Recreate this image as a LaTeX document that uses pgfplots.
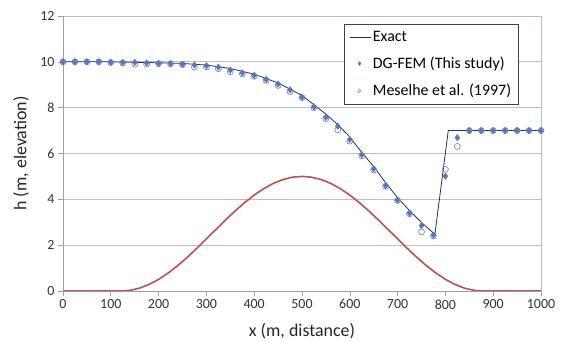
\documentclass[border=0pt]{standalone}
\usepackage{fontspec}
\setmainfont{Carlito}
\usepackage{pgfplots}
\pgfplotsset{compat=1.18}
\definecolor{dgblue}{RGB}{74,124,196}
\definecolor{mescol}{RGB}{140,125,200}
\definecolor{bedred}{RGB}{192,80,77}
\definecolor{bordblue}{RGB}{167,190,220}
\definecolor{gridgray}{RGB}{190,190,190}
\definecolor{axgray}{RGB}{160,160,160}
\begin{document}
\begin{tikzpicture}
\begin{axis}[
  scale only axis,
  width=478bp, height=275bp,
  xmin=0, xmax=1000, ymin=0, ymax=12,
  xtick={0,100,...,1000}, ytick={0,2,...,12},
  /pgf/number format/assume math mode=true,
  /pgf/number format/1000 sep={},
  ticklabel style={font=\fontsize{14}{16}\selectfont, text=black!80},
  xtick pos=bottom, ytick pos=left,
  tick align=outside, major tick length=5bp,
  tick style={axgray, line width=0.6bp},
  ymajorgrids, major grid style={gridgray, line width=0.8bp},
  axis line style={draw=bordblue, line width=0.8bp},
  xlabel={x (m, distance)}, ylabel={h (m, elevation)},
  xlabel style={font=\fontsize{18}{21}\selectfont, at={(axis description cs:0.5,0)}, anchor=center, yshift=-40bp, text=black!85},
  ylabel style={font=\fontsize{18}{21}\selectfont, at={(axis description cs:0,0.5)}, anchor=center, yshift=42bp, text=black!85},
  legend cell align=left,
  legend style={at={(axis description cs:0.577,0.971)}, anchor=north west, xshift=5bp,
    draw=black!75, line width=0.6bp, font=\fontsize{16}{19}\selectfont,
    row sep=10bp, inner sep=5bp},
]
% bed
\addplot[bedred, line width=1.6bp, forget plot] coordinates {
(0,0) (122,0) (140,0.028) (160,0.124) (180,0.285) (200,0.507) (220,0.785)
(240,1.109) (260,1.471) (280,1.863) (300,2.272) (320,2.687) (340,3.097)
(360,3.490) (380,3.856) (400,4.185) (420,4.467) (440,4.696) (460,4.863)
(480,4.966) (500,5.0) (520,4.966) (540,4.863) (560,4.696) (580,4.467)
(600,4.185) (620,3.856) (640,3.490) (660,3.097) (680,2.687) (700,2.272)
(720,1.863) (740,1.471) (760,1.109) (780,0.785) (800,0.507) (820,0.285)
(840,0.124) (860,0.028) (878,0) (1000,0)};
% Meselhe (drawn under)
\addplot[only marks, mark=o, mark size=3bp, mark options={draw=mescol, line width=0.7bp}, forget plot] coordinates {
(0,10.0) (25,10.0) (50,10.0) (75,10.0) (100,9.97) (125,9.95) (150,9.90)
(175,9.90) (200,9.92) (225,9.91) (250,9.88) (275,9.77) (300,9.78) (325,9.70)
(350,9.57) (375,9.47) (400,9.37) (425,9.19) (450,8.97) (475,8.70) (500,8.44)
(525,8.00) (550,7.52) (575,7.03) (600,6.54) (625,5.90) (650,5.28) (675,4.57)
(700,3.95) (725,3.37) (750,2.58) (775,2.40) (800,5.31) (825,6.31) (850,7.0)
(875,7.0) (900,7.0) (925,7.0) (950,7.0) (975,7.0) (1000,7.0)};
% Exact
\addplot[black!80, line width=0.8bp, mark=none,
  legend image code/.code={\draw[black!80, line width=0.8bp] (0bp,0bp)--(21bp,0bp);}] coordinates {
(0,10.0) (100,10.0) (200,9.96) (250,9.93) (300,9.86) (350,9.71) (400,9.46)
(450,9.08) (500,8.53) (550,7.72) (575,7.26) (600,6.72) (625,6.05) (650,5.43)
(675,4.72) (700,4.07) (725,3.51) (750,2.99) (778,2.47) (806,7.0) (1000,7.0)};
\addlegendentry{Exact}
% DG-FEM
\addplot[only marks, mark=diamond*, mark size=3.2bp, mark options={draw=dgblue, fill=dgblue},
  legend image code/.code={\draw[mark=diamond*, mark size=1.8bp, mark options={draw=dgblue, fill=dgblue}] plot coordinates {(10bp,0bp)};}] coordinates {
(0,10.0) (25,10.0) (50,10.0) (75,10.0) (100,9.98) (125,9.97) (150,9.98)
(175,9.95) (200,9.93) (225,9.92) (250,9.89) (275,9.86) (300,9.83) (325,9.77)
(350,9.64) (375,9.52) (400,9.41) (425,9.23) (450,9.03) (475,8.78) (500,8.46)
(525,8.04) (550,7.58) (575,7.19) (600,6.61) (625,5.95) (650,5.33) (675,4.60)
(700,3.97) (725,3.40) (750,2.85) (775,2.44) (800,5.01) (825,6.69) (850,7.0)
(875,7.0) (900,7.0) (925,7.0) (950,7.0) (975,7.0) (1000,7.0)};
\addlegendentry{DG-FEM (This study)}
\addlegendimage{legend image code/.code={\draw[mark=o, mark size=1.8bp, mark options={draw=mescol, line width=0.5bp}] plot coordinates {(10bp,0bp)};}}
\addlegendentry{Meselhe et al. (1997)}
\draw[axgray, line width=0.8bp] (rel axis cs:0,1)--(rel axis cs:0,0)--(rel axis cs:1,0);
\end{axis}
\pgfresetboundingbox
\useasboundingbox (-63bp,-51bp) rectangle (499bp,291bp);
\end{tikzpicture}
\end{document}
